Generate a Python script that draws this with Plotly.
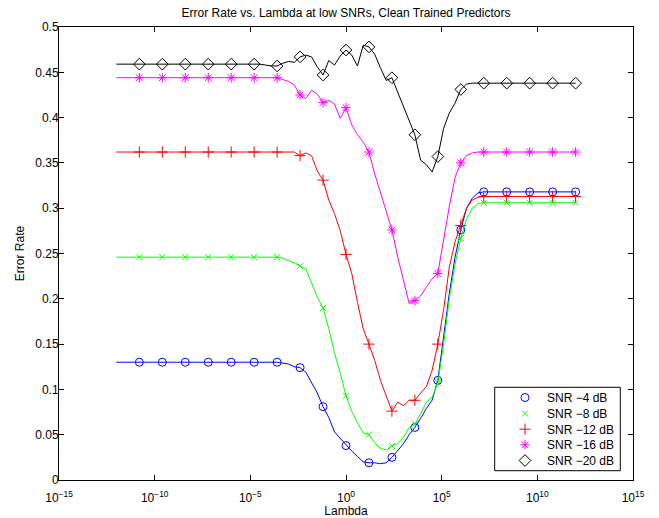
import plotly.graph_objects as go

# log10(lambda) sample positions
EXPONENTS = [-12.0, -10.8, -9.6, -8.4, -7.2, -6.0,
             -4.8, -4.5, -4.2, -3.9, -3.6,
             -3.3, -3.0, -2.7, -2.4, -2.1,
             -1.8, -1.5, -1.2, -0.9, -0.6,
             -0.3, 0.0, 0.3, 0.6, 0.9,
             1.2, 1.5, 1.8, 2.1, 2.4,
             2.7, 3.0, 3.3, 3.6, 3.9,
             4.2, 4.5, 4.8, 5.1, 5.4,
             5.7, 6.0, 6.3, 6.6, 6.9,
             7.2, 8.4, 9.6, 10.8, 12.0]

MARKER_EXPONENTS = [-10.8, -9.6, -8.4, -7.2, -6.0, -4.8, -3.6, -2.4, -1.2, 0.0,
                    1.2, 2.4, 3.6, 4.8, 6.0, 7.2, 8.4, 9.6, 10.8, 12.0]

SNR_4 = [0.130, 0.130, 0.130, 0.130, 0.130, 0.130,
         0.130, 0.130, 0.130, 0.130, 0.130,
         0.129, 0.128, 0.125, 0.124, 0.119,
         0.108, 0.096, 0.081, 0.069, 0.053,
         0.046, 0.038, 0.032, 0.026, 0.020,
         0.019, 0.019, 0.018, 0.019, 0.025,
         0.032, 0.040, 0.050, 0.058, 0.068,
         0.079, 0.088, 0.110, 0.158, 0.206,
         0.246, 0.276, 0.300, 0.311, 0.317,
         0.318, 0.318, 0.318, 0.318, 0.318]

SNR_8 = [0.246, 0.246, 0.246, 0.246, 0.246, 0.246,
         0.246, 0.246, 0.246, 0.246, 0.246,
         0.245, 0.242, 0.240, 0.236, 0.233,
         0.217, 0.202, 0.190, 0.167, 0.140,
         0.118, 0.093, 0.076, 0.063, 0.052,
         0.050, 0.041, 0.035, 0.033, 0.0375,
         0.040, 0.047, 0.058, 0.062, 0.073,
         0.086, 0.091, 0.107, 0.150, 0.200,
         0.238, 0.267, 0.288, 0.300, 0.305,
         0.306, 0.306, 0.306, 0.306, 0.306]

SNR_12 = [0.362, 0.362, 0.362, 0.362, 0.362, 0.362,
          0.362, 0.362, 0.362, 0.362, 0.362,
          0.362, 0.362, 0.362, 0.358, 0.361,
          0.358, 0.341, 0.331, 0.309, 0.294,
          0.275, 0.249, 0.228, 0.196, 0.167,
          0.150, 0.132, 0.110, 0.092, 0.076,
          0.086, 0.082, 0.088, 0.088, 0.096,
          0.103, 0.121, 0.150, 0.188, 0.235,
          0.263, 0.281, 0.300, 0.309, 0.312,
          0.313, 0.313, 0.313, 0.313, 0.313]

SNR_16 = [0.444, 0.444, 0.444, 0.444, 0.444, 0.444,
          0.444, 0.444, 0.444, 0.444, 0.444,
          0.442, 0.440, 0.436, 0.425, 0.421,
          0.430, 0.426, 0.4165, 0.419, 0.415,
          0.399, 0.411, 0.392, 0.381, 0.373,
          0.362, 0.338, 0.318, 0.298, 0.276,
          0.2465, 0.221, 0.195, 0.198, 0.203,
          0.213, 0.222, 0.228, 0.265, 0.302,
          0.334, 0.350, 0.358, 0.361, 0.362,
          0.362, 0.362, 0.362, 0.362, 0.362]

SNR_20 = [0.459, 0.459, 0.459, 0.459, 0.459, 0.459,
          0.459, 0.459, 0.458, 0.457, 0.457,
          0.460, 0.462, 0.461, 0.467, 0.469,
          0.467, 0.456, 0.447, 0.463, 0.458,
          0.468, 0.4746, 0.469, 0.457, 0.480,
          0.478, 0.470, 0.455, 0.441, 0.444,
          0.428, 0.412, 0.396, 0.381, 0.353,
          0.348, 0.340, 0.357, 0.388, 0.405,
          0.416, 0.431, 0.437, 0.438, 0.438,
          0.438, 0.438, 0.438, 0.438, 0.438]

SERIES_NAMES = ["SNR \u22124 dB", "SNR \u22128 dB", "SNR \u221212 dB",
                "SNR \u221216 dB", "SNR \u221220 dB"]
SERIES_VALUES = [SNR_4, SNR_8, SNR_12, SNR_16, SNR_20]
COLORS = ["#0000ff", "#00ff00", "#ff0000", "#ff00ff", "#000000"]
SYMBOLS = ["circle-open", "x-thin-open", "cross-thin-open", "asterisk-open", "diamond-open"]
SIZES = [8, 6, 8, 8, 9]

XTICK_EXP = [-15, -10, -5, 0, 5, 10, 15]
XTICK_TEXT = ["10<sup>\u221215</sup>", "10<sup>\u221210</sup>", "10<sup>\u22125</sup>",
              "10<sup>0</sup>", "10<sup>5</sup>", "10<sup>10</sup>", "10<sup>15</sup>"]

lam = [10.0 ** e for e in EXPONENTS]
mlam = [10.0 ** e for e in MARKER_EXPONENTS]
midx = [EXPONENTS.index(e) for e in MARKER_EXPONENTS]

FONT = "Liberation Sans, Arial, Helvetica, sans-serif"

fig = go.Figure()
legend_names = ["legend", "legend2", "legend3", "legend4", "legend5"]
for i, (name, vals) in enumerate(zip(SERIES_NAMES, SERIES_VALUES)):
    fig.add_trace(go.Scatter(x=lam, y=vals, mode="lines",
                             line=dict(color=COLORS[i], width=1),
                             showlegend=False, hoverinfo="skip"))
    fig.add_trace(go.Scatter(x=mlam, y=[vals[j] for j in midx], mode="markers",
                             name=name, legend=legend_names[i],
                             marker=dict(symbol=SYMBOLS[i], size=SIZES[i],
                                         color=COLORS[i],
                                         line=dict(color=COLORS[i], width=1))))

W, H = 659, 518
L, R, T, B = 59, 26, 27, 38
pw, ph = W - L - R, H - T - B

def px_to_paper_x(px):
    return (px - L) / pw

def px_to_paper_y(py):
    return (H - B - py) / ph

legend_rows = [397.5, 413.5, 429.2, 444.8, 460.5]
layout_legends = {}
for name, row in zip(legend_names, legend_rows):
    layout_legends[name] = dict(x=px_to_paper_x(503), xanchor="left",
                                y=px_to_paper_y(row), yanchor="middle",
                                itemwidth=34,
                                bgcolor="rgba(0,0,0,0)", borderwidth=0,
                                font=dict(family=FONT, size=12, color="black"))

fig.update_layout(
    template="none",
    width=W, height=H,
    margin=dict(l=L, r=R, t=T, b=B, autoexpand=False),
    paper_bgcolor="white", plot_bgcolor="white",
    font=dict(family=FONT, size=12, color="black"),
    title=dict(text="Error Rate vs. Lambda at low SNRs, Clean Trained Predictors",
               x=0.5, xref="paper", xanchor="center",
               y=1 - 12.5 / H, yanchor="middle",
               font=dict(family=FONT, size=12, color="black")),
    shapes=[dict(type="rect", xref="paper", yref="paper",
                 x0=px_to_paper_x(494.7), x1=px_to_paper_x(620.3),
                 y0=px_to_paper_y(470.7), y1=px_to_paper_y(387.3),
                 line=dict(color="black", width=1), fillcolor="white",
                 layer="above")],
    **layout_legends,
)

fig.update_xaxes(type="log", range=[-15, 15], automargin=False,
                 tickvals=[10.0 ** e for e in XTICK_EXP], ticktext=XTICK_TEXT,
                 ticks="inside", ticklen=5, tickcolor="black", tickwidth=1,
                 ticklabelstandoff=7,
                 showline=True, linecolor="black", linewidth=1, mirror="ticks",
                 showgrid=False, zeroline=False,
                 tickfont=dict(family=FONT, size=12, color="black"),
                 title=dict(text="Lambda", standoff=3,
                            font=dict(family=FONT, size=12, color="black")))
fig.update_yaxes(range=[0, 0.5], tick0=0, dtick=0.05, automargin=False,
                 ticks="inside", ticklen=5, tickcolor="black", tickwidth=1,
                 ticklabelstandoff=-3,
                 showline=True, linecolor="black", linewidth=1, mirror="ticks",
                 showgrid=False, zeroline=False,
                 tickfont=dict(family=FONT, size=12, color="black"),
                 title=dict(text="Error Rate", standoff=8,
                            font=dict(family=FONT, size=12, color="black")))

fig.write_html("out.html", config={"displayModeBar": False},
               post_script="document.body.style.margin='0';")
